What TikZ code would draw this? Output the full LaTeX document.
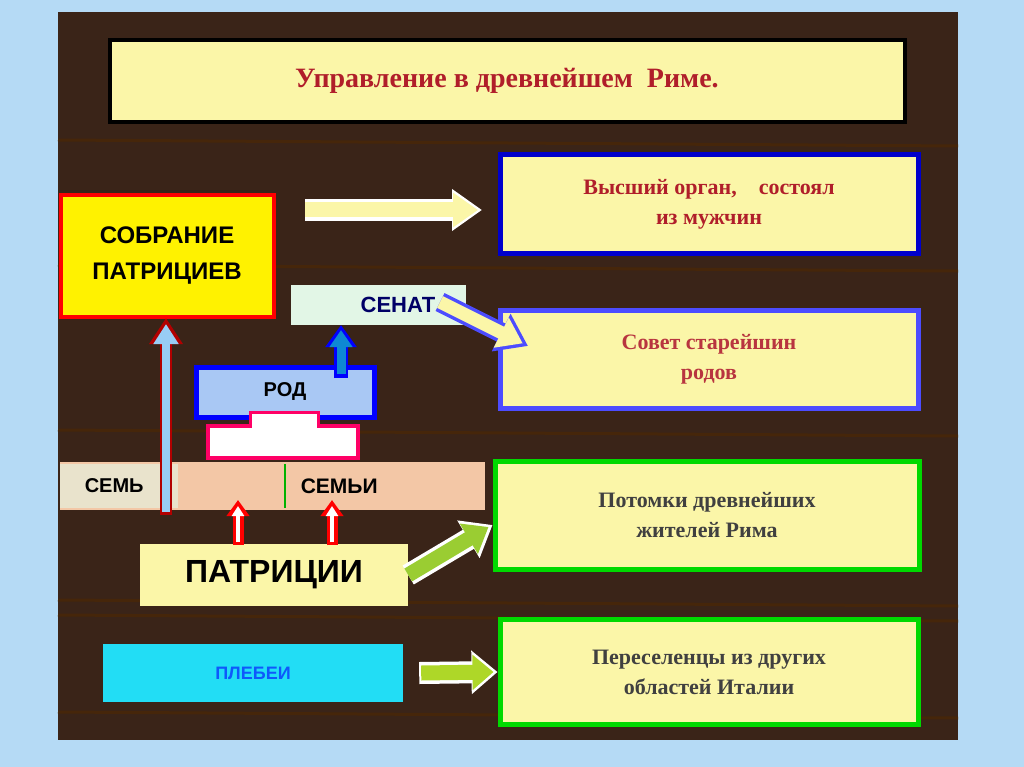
\documentclass[tikz,border=0pt]{standalone}
\usepackage{fontspec}
\setmainfont{Liberation Serif}
\setsansfont{Liberation Sans}
\usetikzlibrary{arrows.meta,positioning,calc}
\definecolor{skyback}{HTML}{B5DAF5}
\definecolor{wood}{HTML}{3A2418}
\definecolor{paleyellow}{HTML}{FBF6A8}
\definecolor{boxred}{HTML}{B01E2A}
\definecolor{peach}{HTML}{F3C7A6}
\definecolor{rodblue}{HTML}{A9C8F4}
\definecolor{senatgreen}{HTML}{E2F6E6}
\definecolor{plebcyan}{HTML}{22DDF5}
\definecolor{limegreen}{HTML}{9ACD32}
\tikzset{
  infobox/.style={draw=#1, line width=5pt, fill=paleyellow, minimum width=418pt,
    minimum height=98pt, align=center, font=\bfseries\fontsize{22}{30}\selectfont, inner sep=0pt},
  capsbox/.style={font=\sffamily\bfseries\fontsize{24}{32}\selectfont, inner sep=0pt, align=center},
  blockout/.style={line width=#1, -{Triangle[length=30pt,width=40pt]}},
}
\begin{document}
\begin{tikzpicture}[x=1pt,y=-1pt]
    \useasboundingbox (0,0) rectangle (1024,767);
    % background and wooden panel
    \fill[skyback] (0,0) rectangle (1024,767);
    \fill[wood] (58,12) rectangle (958,740);
    \foreach \yy in {140,265,430,600,615,712} {
      \draw[wood!70!orange!60!black, line width=3pt] (58,\yy) -- (958,\yy+6);
    }

    % title
    \node[draw=black, line width=4pt, fill=paleyellow, minimum width=795pt, minimum height=82pt,
      text=boxred, font=\bfseries\fontsize{28}{30}\selectfont] (title) at (507,81) {Управление в древнейшем~ Риме.};

    % right column
    \node[infobox=blue!80!black, text=boxred] (organ) at (709,204) {Высший орган,\quad состоял\\из мужчин};
    \node[infobox=blue!70!white, text=boxred!90!white] (sovet) at (709,359) {Совет старейшин\\родов};
    \node[infobox=green!85!black, text=black!75, minimum width=424pt, minimum height=108pt] (potomki) at (707,515) {Потомки древнейших\\жителей Рима};
    \node[infobox=green!85!black, text=black!75, minimum height=105pt] (pereselency) at (709,672) {Переселенцы из других\\областей Италии};

    % left column
    \node[capsbox, draw=red, line width=4pt, fill=yellow, minimum width=213pt, minimum height=122pt] (sobranie) at (167,256) {СОБРАНИЕ\\[4pt]ПАТРИЦИЕВ};
    \node[capsbox, fill=senatgreen, text=blue!40!black, minimum width=175pt, minimum height=40pt,
      font=\sffamily\bfseries\fontsize{22}{26}\selectfont] (senat) at (378,305) {\hspace*{40pt}СЕНАТ};
    \node[capsbox, draw=blue, line width=5pt, fill=rodblue, minimum width=178pt, minimum height=50pt,
      font=\sffamily\bfseries\fontsize{20}{24}\selectfont] (rod) at (285,392) {РОД};
    \node[draw=red!60!magenta, line width=4pt, fill=white, minimum width=150pt, minimum height=32pt] (rodbase) at (283,442) {};
    \fill[white, draw=red!60!magenta, line width=3pt] (250,428) -- (250,412) -- (318,412) -- (318,428);

    \node[fill=peach, minimum width=425pt, minimum height=48pt] (semibar) at (272,486) {};
    \node[capsbox, fill=senatgreen!60!peach, minimum width=118pt, minimum height=44pt, anchor=west,
      font=\sffamily\bfseries\fontsize{20}{24}\selectfont] (semi1) at (60,486) {СЕМЬ\hspace*{10pt}};
    \node[capsbox, fill=peach, minimum width=198pt, minimum height=44pt, anchor=west,
      font=\sffamily\bfseries\fontsize{21}{24}\selectfont] (semi2) at (285,486) {СЕМЬИ\hspace*{90pt}};
    \draw[green!70!black, line width=2pt] (semi2.north west) -- (semi2.south west);

    \node[capsbox, fill=paleyellow, minimum width=268pt, minimum height=62pt,
      font=\sffamily\bfseries\fontsize{32}{36}\selectfont] (patricii) at (274,575) {ПАТРИЦИИ};
    \node[fill=plebcyan, minimum width=300pt, minimum height=58pt, text=blue!60!plebcyan,
      font=\sffamily\bfseries\fontsize{18}{20}\selectfont] (plebei) at (253,673) {ПЛЕБЕИ};

    % block arrows
    \coordinate (aOrganA) at (305,210);
    \coordinate (aOrganB) at (482,210);
    \draw[blockout=22pt, draw=white] (aOrganA) -- (aOrganB);
    \draw[blockout=15pt, draw=paleyellow, -{Triangle[length=25pt,width=33pt]}] (aOrganA) -- ([xshift=-4pt]aOrganB);

    \coordinate (aSenatA) at (440,302);
    \coordinate (aSenatB) at (528,346);
    \draw[blockout=20pt, draw=blue!70] (aSenatA) -- (aSenatB);
    \draw[blockout=13pt, draw=paleyellow, -{Triangle[length=24pt,width=32pt]}] (aSenatA) -- ($(aSenatB)!0.06!(aSenatA)$);

    \draw[line width=12pt, draw=red!70!black, -{Triangle[length=26pt,width=32pt]}] (166,515) -- (166,318);
    \draw[line width=8pt, draw=rodblue!90!cyan, -{Triangle[length=20pt,width=24pt]}] (166,512) -- (166,324);

    \draw[line width=14pt, draw=blue, -{Triangle[length=22pt,width=30pt]}] (341,378) -- (341,325);
    \draw[line width=9pt, draw=cyan!70!blue, -{Triangle[length=17pt,width=22pt]}] (341,374) -- (341,330);

    \foreach \xx in {238,332} {
      \draw[line width=11pt, draw=red, -{Triangle[length=16pt,width=22pt]}] (\xx,545) -- (\xx,500);
      \draw[line width=4pt, draw=white, -{Triangle[length=10pt,width=12pt]}] (\xx,542) -- (\xx,506);
    }

    \draw[line width=22pt, draw=white, -{Triangle[length=28pt,width=42pt]}] (patricii.east) -- ([yshift=-10pt]potomki.west);
    \draw[line width=15pt, draw=limegreen, -{Triangle[length=23pt,width=34pt]}] (patricii.east) -- ([yshift=-12pt,xshift=-4pt]potomki.west);

    \draw[line width=22pt, draw=white, -{Triangle[length=26pt,width=42pt]}] ([xshift=16pt]plebei.east) -- (pereselency.west);
    \draw[line width=15pt, draw=limegreen!80!yellow, -{Triangle[length=21pt,width=34pt]}] ([xshift=18pt]plebei.east) -- ([xshift=-4pt]pereselency.west);
\end{tikzpicture}
\end{document}
